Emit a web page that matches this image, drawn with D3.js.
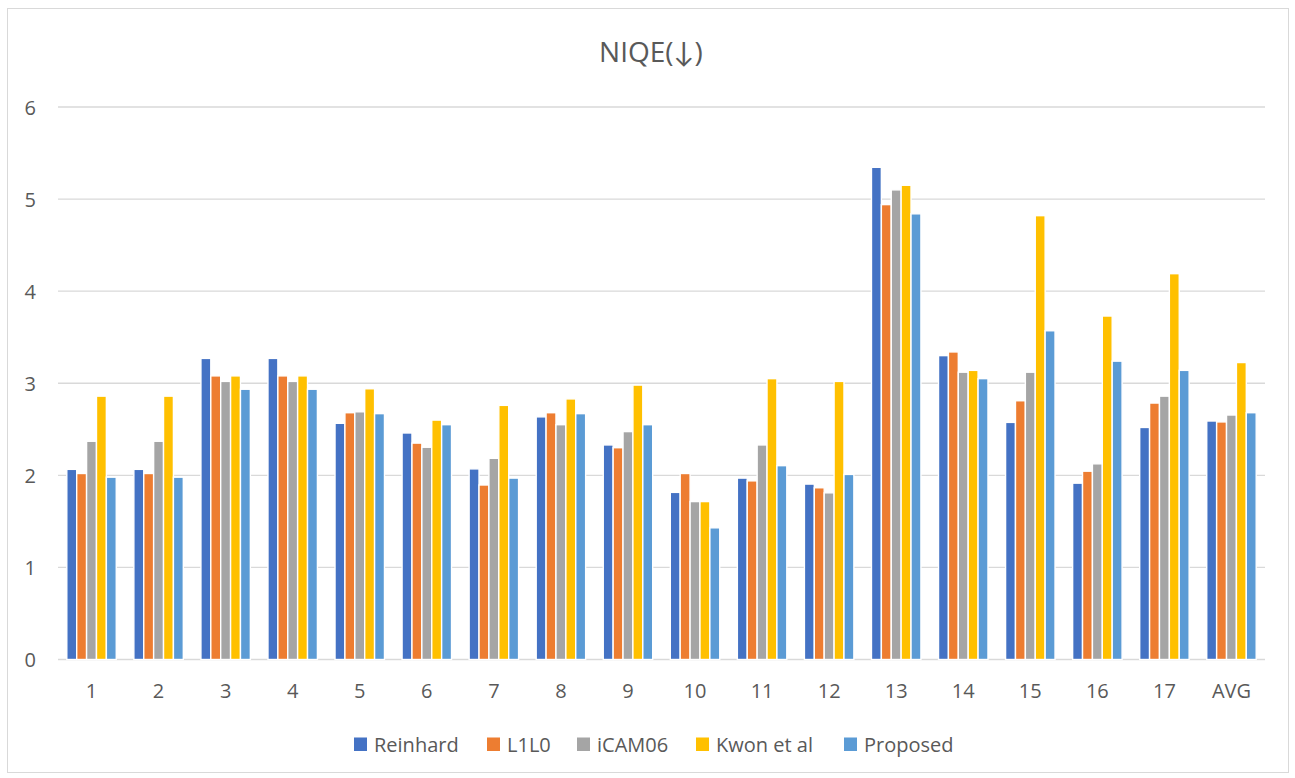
<!DOCTYPE html>
<html>
<head>
<meta charset="utf-8">
<script src="https://cdn.jsdelivr.net/npm/d3@7"></script>
<style>
  body { margin: 0; background: #fff; }
  svg text { font-family: "Open Sans", Lato, sans-serif; fill: #595959; }
</style>
</head>
<body>
<svg id="chart" width="1295" height="778"></svg>
<script>
// categories and series
var categories = ["1","2","3","4","5","6","7","8","9","10","11","12","13","14","15","16","17","AVG"];
var seriesNames = ["Reinhard", "L1L0", "iCAM06", "Kwon et al", "Proposed"];
var colors = ["#4472C4", "#ED7D31", "#A5A5A5", "#FFC000", "#5B9BD5"];

var reinhard = [2.065, 2.065, 3.27, 3.27, 2.565, 2.46, 2.07, 2.635, 2.33, 1.815, 1.97, 1.905, 5.345, 3.30, 2.575, 1.915, 2.52, 2.59];
var l1l0     = [2.02, 2.02, 3.08, 3.08, 2.68, 2.35, 1.895, 2.68, 2.30, 2.02, 1.94, 1.865, 4.94, 3.34, 2.81, 2.045, 2.785, 2.58];
var icam06   = [2.37, 2.37, 3.02, 3.02, 2.69, 2.305, 2.185, 2.55, 2.475, 1.715, 2.33, 1.81, 5.10, 3.12, 3.12, 2.125, 2.86, 2.655];
var kwon     = [2.86, 2.86, 3.08, 3.08, 2.94, 2.60, 2.76, 2.83, 2.98, 1.715, 3.05, 3.02, 5.15, 3.14, 4.82, 3.73, 4.19, 3.225];
var proposed = [1.98, 1.98, 2.935, 2.935, 2.67, 2.55, 1.97, 2.67, 2.55, 1.43, 2.105, 2.01, 4.84, 3.05, 3.57, 3.24, 3.14, 2.68];

var yTicks = [0, 1, 2, 3, 4, 5, 6];

var allSeries = [reinhard, l1l0, icam06, kwon, proposed];

var svg = d3.select("#chart");

// chart border
svg.append("rect")
    .attr("x", 7.5).attr("y", 8.5)
    .attr("width", 1281).attr("height", 764)
    .attr("fill", "#fff")
    .attr("stroke", "#D9D9D9")
    .attr("stroke-width", 1);

var plotLeft = 58, plotRight = 1265, plotTop = 107, plotBottom = 659.5;

var y = d3.scaleLinear().domain([0, 6]).range([plotBottom, plotTop]);

var x0 = d3.scaleBand().domain(categories).range([plotLeft, plotRight]).paddingInner(0).paddingOuter(0);
var x1 = d3.scaleBand().domain(seriesNames).range([0, x0.bandwidth()]).paddingInner(0).paddingOuter(0.89);

// gridlines
svg.append("g")
    .selectAll("line")
    .data(yTicks)
    .enter()
    .append("line")
    .attr("x1", plotLeft).attr("x2", plotRight)
    .attr("y1", d => y(d)).attr("y2", d => y(d))
    .attr("stroke", "#D9D9D9")
    .attr("stroke-width", 1.3);

// y labels
var yAxis = d3.axisLeft(y).tickValues(yTicks).tickFormat(d3.format("d")).tickSize(0).tickPadding(0);
var yg = svg.append("g").attr("transform", "translate(36,0)").call(yAxis);
yg.select(".domain").remove();
yg.selectAll("text")
    .style("font-size", "20px")
    .attr("dy", "0.36em");

// x labels
var xAxis = d3.axisBottom(x0).tickSize(0).tickPadding(0);
var xg = svg.append("g").attr("transform", "translate(0,698)").call(xAxis);
xg.select(".domain").remove();
xg.selectAll("text")
    .style("font-size", "20px")
    .attr("dy", 0);

// bars
var groups = svg.append("g")
    .selectAll("g")
    .data(categories)
    .enter()
    .append("g")
    .attr("transform", d => "translate(" + x0(d) + ",0)");

groups.selectAll("rect")
    .data((d, i) => allSeries.map((s, j) => ({ name: seriesNames[j], value: s[i], color: colors[j] })))
    .enter()
    .append("rect")
    .attr("x", d => x1(d.name))
    .attr("y", d => y(d.value))
    .attr("width", x1.bandwidth())
    .attr("height", d => plotBottom - y(d.value))
    .attr("fill", d => d.color)
    .attr("stroke", "#fff")
    .attr("stroke-width", 1.4);

// title
svg.append("text")
    .attr("x", 651)
    .attr("y", 62)
    .attr("text-anchor", "middle")
    .style("font-size", "28px")
    .text("NIQE(↓)");

// legend
var legendX = [354, 487, 577, 696, 844];
var legend = svg.append("g")
    .selectAll("g")
    .data(seriesNames)
    .enter()
    .append("g")
    .attr("transform", (d, i) => "translate(" + legendX[i] + ",737.5)");

legend.append("rect")
    .attr("width", 13).attr("height", 13.5)
    .attr("fill", (d, i) => colors[i]);

legend.append("text")
    .attr("x", 20)
    .attr("y", 14)
    .style("font-size", "20px")
    .text(d => d);
</script>
</body>
</html>
